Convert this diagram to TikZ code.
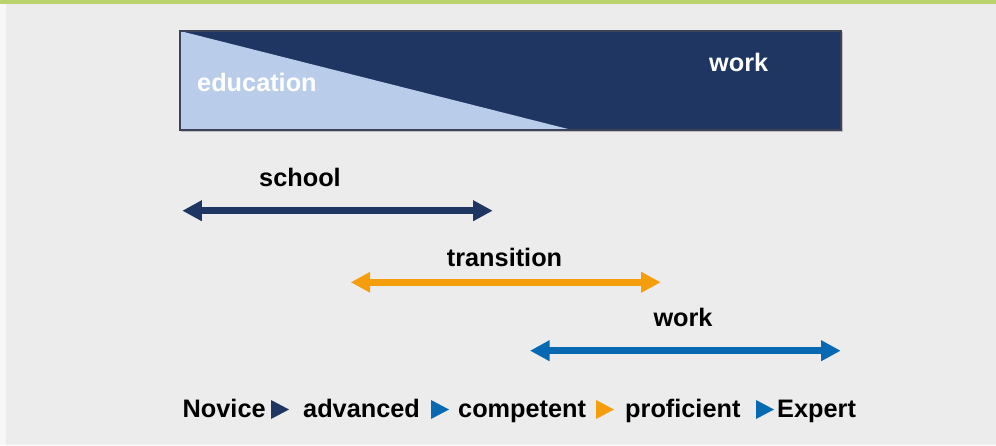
\documentclass[tikz,border=0pt]{standalone}
\usepackage{fontspec}
\setmainfont{Liberation Sans}
\usetikzlibrary{arrows.meta}
\definecolor{navy}{HTML}{1E3661}
\definecolor{lightblue}{HTML}{B9CCEA}
\definecolor{orng}{HTML}{F59E0C}
\definecolor{blu}{HTML}{0669B2}
\definecolor{bg}{HTML}{ECECEC}
\definecolor{grn}{HTML}{BAD36C}
\definecolor{edge}{HTML}{3C4258}
\tikzset{
  lbl/.style={inner sep=0pt, anchor=base west, font=\fontsize{25.3}{30}\selectfont\bfseries},
  wlbl/.style={lbl, text=white},
  dbl/.style={line width=7.2pt, {Triangle[length=19.5pt,width=19.5pt]}-{Triangle[length=19.5pt,width=19.5pt]}},
}
\begin{document}
\begin{tikzpicture}[x=1pt,y=-1pt]
\useasboundingbox (0,0) rectangle (996,445);
\fill[bg] (0,0) rectangle (996,445);
\fill[white!60!bg] (0,0) rectangle (6,445);
\fill[grn] (0,0) rectangle (996,3.6);
% main bar
\fill[black!25] (181,32) rectangle (843,132);
\fill[navy] (180,31) rectangle (841,130);
\fill[lightblue] (180,31) -- (180,130) -- (572,130) -- cycle;
\draw[edge, line width=1.6pt] (180,31) rectangle (841,130);
\node[wlbl] (edu) at (197,91.7) {education};
\node[wlbl] (wk) at (709,71.7) {work};
% arrows
\coordinate (s1) at (182.3,210.7);
\coordinate (s2) at (492.7,210.7);
\coordinate (t1) at (350.7,282.3);
\coordinate (t2) at (660.7,282.3);
\coordinate (w1) at (530,350.7);
\coordinate (w2) at (840.7,350.7);
\draw[dbl, navy] (s1) -- (s2);
\draw[dbl, orng] (t1) -- (t2);
\draw[dbl, blu] (w1) -- (w2);
\node[lbl] (school) at (259,186) {school};
\node[lbl] (trans) at (446.7,266) {transition};
\node[lbl] (work) at (653.3,326.7) {work};
% bottom scale
\node[lbl] (nov) at (182.5,417) {Novice};
\node[lbl] (adv) at (303,417) {advanced};
\node[lbl] (comp) at (458,417) {competent};
\node[lbl] (prof) at (625,417) {proficient};
\node[lbl] (exp) at (777,417) {Expert};
\fill[navy] (271,400) -- (289,409.5) -- (271,419) -- cycle;
\fill[blu] (431,400) -- (449,409.5) -- (431,419) -- cycle;
\fill[orng] (596,400) -- (614,409.5) -- (596,419) -- cycle;
\fill[blu] (756,400) -- (774,409.5) -- (756,419) -- cycle;
\end{tikzpicture}
\end{document}
